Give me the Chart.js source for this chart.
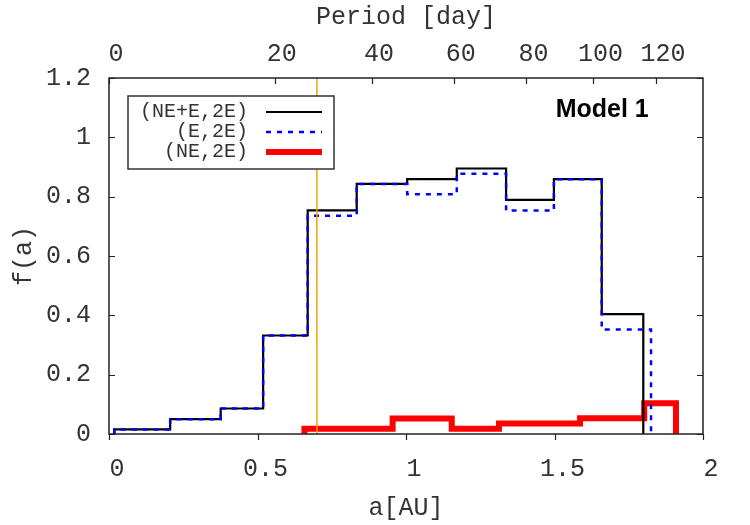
<!DOCTYPE html>
<html>
<head>
<meta charset="utf-8">
<title>Model 1 - f(a)</title>
<script src="https://cdn.jsdelivr.net/npm/chart.js@4/dist/chart.umd.min.js"></script>
<style>
  html, body { margin: 0; padding: 0; background: #fff; }
  #wrap { width: 750px; height: 525px; }
</style>
</head>
<body>
<div id="wrap"><canvas id="chart" width="750" height="525"></canvas></div>
<script>
// Histogram bin edges (a in AU) and heights f(a)
const edgesAll = [0.018, 0.206, 0.376, 0.519, 0.669, 0.834, 1.004, 1.171, 1.337, 1.498, 1.659, 1.799];
const fracAll  = [0.0155, 0.050, 0.086, 0.332, 0.754, 0.843, 0.859, 0.895, 0.789, 0.859, 0.404];

const edgesE = [0.018, 0.206, 0.376, 0.519, 0.669, 0.834, 1.004, 1.171, 1.337, 1.498, 1.659, 1.825];
const fracE  = [0.0155, 0.050, 0.086, 0.332, 0.736, 0.843, 0.808, 0.877, 0.753, 0.859, 0.352];

const edgesNE = [0.658, 0.955, 1.154, 1.313, 1.586, 1.802, 1.909];
const fracNE  = [0.018, 0.052, 0.018, 0.035, 0.053, 0.104];

const seriesLabels = ['(NE+E,2E)', '(E,2E)', '(NE,2E)'];

// axis ticks
const aTicks = [0, 0.5, 1, 1.5, 2];
const fTicks = [0, 0.2, 0.4, 0.6, 0.8, 1, 1.2];
const periodTicks = [0, 20, 40, 60, 80, 100, 120];
const daysAtOneAU = 48;   // P[day] = 48 * a^1.5
const markerA = 0.7;      // orange vertical line

const MONO = '"Liberation Mono", "Courier New", monospace';
const TEXT = '#333';
const TICK = 6;

/** Turn bin edges + heights into the corner points of a step outline */
function steps(edges, vals) {
  const pts = [{ x: edges[0], y: 0 }];
  vals.forEach((v, i) => {
    pts.push({ x: edges[i], y: v });
    pts.push({ x: edges[i + 1], y: v });
  });
  pts.push({ x: edges[edges.length - 1], y: 0 });
  return pts;
}

const periodToA = p => Math.pow(p / daysAtOneAU, 2 / 3);

/* ── frame, inward ticks, legend and label ─────────────────── */

const gnuplotDecor = {
  id: 'gnuplotDecor',
  afterDatasetsDraw(chart) {
    const { ctx, chartArea: area, scales } = chart;
    ctx.save();

    // tick marks
    ctx.strokeStyle = '#222';
    ctx.lineWidth = 1.2;
    ctx.beginPath();
    scales.y.ticks.forEach(t => {
      const py = Math.round(scales.y.getPixelForValue(t.value)) + 0.5;
      ctx.moveTo(area.left, py); ctx.lineTo(area.left + TICK, py);
      ctx.moveTo(area.right, py); ctx.lineTo(area.right - TICK, py);
    });
    scales.x.ticks.forEach(t => {
      const px = Math.round(scales.x.getPixelForValue(t.value)) + 0.5;
      ctx.moveTo(px, area.bottom); ctx.lineTo(px, area.bottom + TICK);
    });
    scales.x2.ticks.forEach(t => {
      const px = Math.round(scales.x2.getPixelForValue(t.value)) + 0.5;
      ctx.moveTo(px, area.top); ctx.lineTo(px, area.top + TICK);
    });
    ctx.stroke();

    // plot border
    ctx.lineWidth = 1.5;
    ctx.strokeRect(area.left, area.top, area.right - area.left, area.bottom - area.top);

    // legend box (gnuplot style: text right aligned, sample to the right)
    const box = { left: 128, top: 96, right: 334, bottom: 169 };
    ctx.fillStyle = '#fff';
    ctx.fillRect(box.left, box.top, box.right - box.left, box.bottom - box.top);
    ctx.strokeStyle = '#333';
    ctx.lineWidth = 1.5;
    ctx.strokeRect(box.left, box.top, box.right - box.left, box.bottom - box.top);

    ctx.font = '20px ' + MONO;
    ctx.textAlign = 'right';
    ctx.textBaseline = 'middle';
    const rowY = [112, 132, 152];
    chart.data.datasets.slice(0, 3).forEach((ds, i) => {
      ctx.fillStyle = TEXT;
      ctx.fillText(ds.label, 248, rowY[i]);
      ctx.strokeStyle = ds.borderColor;
      ctx.lineWidth = ds.borderWidth;
      ctx.setLineDash(ds.borderDash || []);
      ctx.beginPath();
      ctx.moveTo(266, rowY[i]);
      ctx.lineTo(322, rowY[i]);
      ctx.stroke();
      ctx.setLineDash([]);
    });

    // model label
    ctx.fillStyle = '#000';
    ctx.font = 'bold 25px "Liberation Sans", Arial, sans-serif';
    ctx.textAlign = 'left';
    ctx.textBaseline = 'alphabetic';
    ctx.fillText('Model 1', scales.x.getPixelForValue(1.504), scales.y.getPixelForValue(1.07));

    ctx.restore();
  }
};

const tickFont = { family: MONO, size: 25 };
const plain = v => String(v);

new Chart(document.getElementById('chart'), {
  type: 'line',
  data: {
    datasets: [
      {
        label: seriesLabels[0],
        data: steps(edgesAll, fracAll),
        borderColor: '#000',
        borderWidth: 2.2,
        order: 2,
      },
      {
        label: seriesLabels[1],
        data: steps(edgesE, fracE),
        borderColor: '#0000ff',
        borderWidth: 2.5,
        borderDash: [5, 6],
        order: 1,
      },
      {
        label: seriesLabels[2],
        data: steps(edgesNE, fracNE),
        borderColor: '#ff0000',
        borderWidth: 6,
        order: 3,
      },
      {
        label: 'marker',
        data: [{ x: markerA, y: 0 }, { x: markerA, y: 1.2 }],
        borderColor: '#f5a000',
        borderWidth: 1.5,
        order: 0,
      },
    ],
  },
  options: {
    responsive: false,
    animation: false,
    events: [],
    layout: { padding: { left: 0, top: 0, right: 47, bottom: 0 } },
    elements: {
      point: { radius: 0 },
      line: { tension: 0, fill: false, borderJoinStyle: 'miter', borderCapStyle: 'butt' },
    },
    plugins: {
      legend: { display: false },
      tooltip: { enabled: false },
    },
    scales: {
      x: {
        type: 'linear',
        position: 'bottom',
        min: 0,
        max: 2,
        afterBuildTicks: s => { s.ticks = aTicks.map(v => ({ value: v })); },
        afterFit: s => { s.height = 91; },
        grid: { display: false, drawTicks: false },
        border: { display: false },
        ticks: {
          font: tickFont, color: TEXT, padding: 20, autoSkip: false, maxRotation: 0,
          labelOffset: 8, callback: plain,
        },
        title: { display: true, text: 'a[AU]', font: tickFont, color: TEXT, padding: { top: 0, bottom: 2 } },
      },
      x2: {
        type: 'linear',
        position: 'top',
        min: 0,
        max: 2,
        afterBuildTicks: s => { s.ticks = periodTicks.map(p => ({ value: periodToA(p) })); },
        afterFit: s => { s.height = 78; },
        grid: { display: false, drawTicks: false },
        border: { display: false },
        ticks: {
          font: tickFont, color: TEXT, padding: 9, autoSkip: false, maxRotation: 0,
          labelOffset: 7, callback: (v, i) => periodTicks[i],
        },
        title: { display: true, text: 'Period [day]', font: tickFont, color: TEXT, padding: { top: 2, bottom: 0 } },
      },
      y: {
        type: 'linear',
        position: 'left',
        min: 0,
        max: 1.2,
        afterBuildTicks: s => { s.ticks = fTicks.map(v => ({ value: v })); },
        afterFit: s => { s.width = 109; },
        grid: { display: false, drawTicks: false },
        border: { display: false },
        ticks: { font: tickFont, color: TEXT, padding: 18, callback: plain },
        title: { display: true, text: 'f(a)', font: tickFont, color: TEXT, padding: { top: 9, bottom: 0 } },
      },
    },
  },
  plugins: [gnuplotDecor],
});
</script>
</body>
</html>
